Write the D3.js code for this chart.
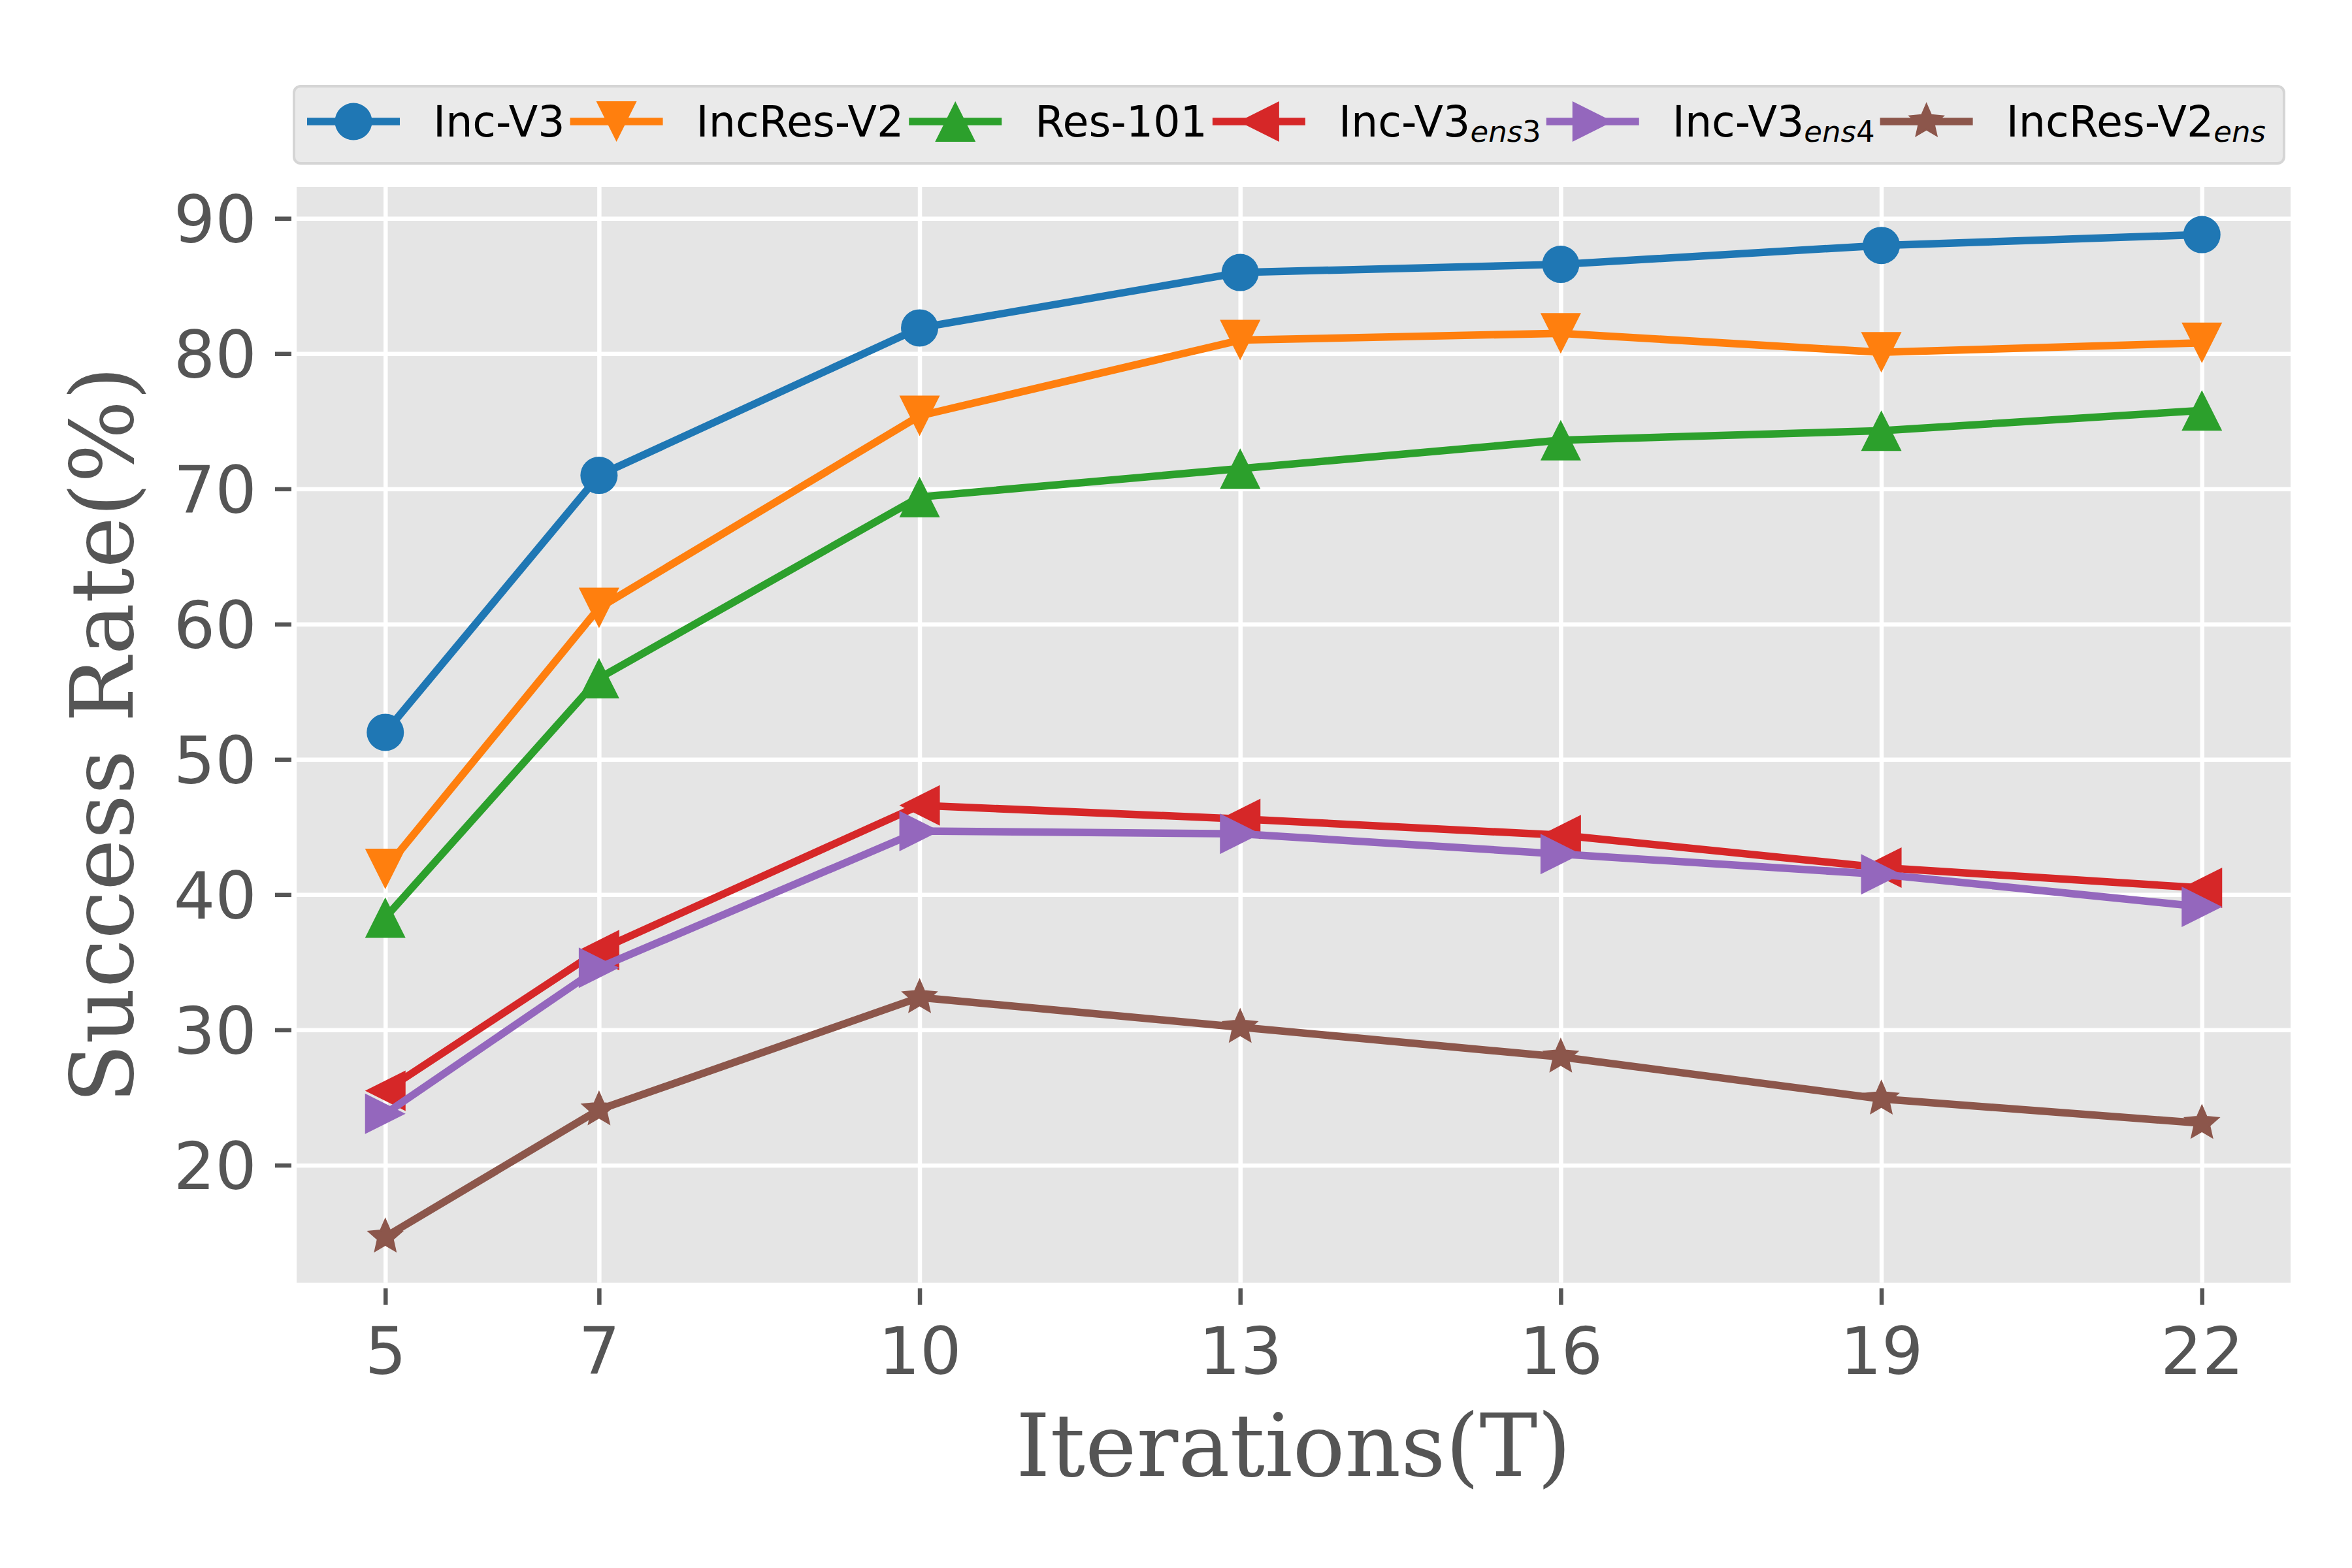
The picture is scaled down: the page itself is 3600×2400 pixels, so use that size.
<!DOCTYPE html>
<html>
<head>
<meta charset="utf-8">
<script src="https://cdn.jsdelivr.net/npm/d3@7"></script>
<style>
  body { margin: 0; background: #fff; }
</style>
</head>
<body>
<script>
// iterations on the x axis
var iters = [5, 7, 10, 13, 16, 19, 22];

// success rates (%)
var incV3      = [52.0, 71.0, 81.9, 86.0, 86.6, 88.0, 88.8];
var incResV2   = [41.9, 61.2, 75.4, 81.0, 81.5, 80.1, 80.8];
var res101     = [38.3, 56.0, 69.4, 71.5, 73.6, 74.3, 75.8];
var incV3ens3  = [25.5, 35.9, 46.6, 45.6, 44.4, 42.0, 40.5];
var incV3ens4  = [23.8, 34.6, 44.7, 44.5, 43.0, 41.5, 39.1];
var incResV2ens = [14.7, 24.1, 32.4, 30.2, 28.0, 24.9, 23.1];

var yTicks = [20, 30, 40, 50, 60, 70, 80, 90];

// legend names: base text + subscript
var names = [
  ["Inc-V3", ""], ["IncRes-V2", ""], ["Res-101", ""],
  ["Inc-V3", "ens3"], ["Inc-V3", "ens4"], ["IncRes-V2", "ens"]
];
var allSeries = [incV3, incResV2, res101, incV3ens3, incV3ens4, incResV2ens];
var colors = ["#1f77b4", "#ff7f0e", "#2ca02c", "#d62728", "#9467bd", "#8c564b"];
var shapes = ["o", "v", "^", "<", ">", "*"];

var W = 3600, H = 2400;
var pLeft = 454, pRight = 3506, pTop = 286, pBottom = 1963.5;

var svg = d3.select("body").append("svg")
  .attr("width", W).attr("height", H);

var x = d3.scaleLinear().domain([4.17, 22.83]).range([pLeft, pRight]);
var y = d3.scaleLinear().domain([11.30, 92.33]).range([pBottom, pTop]);

// panel background
svg.append("rect")
  .attr("x", pLeft).attr("y", pTop)
  .attr("width", pRight - pLeft).attr("height", pBottom - pTop)
  .attr("fill", "#e5e5e5");

// grid
var gx = svg.append("g")
  .attr("transform", "translate(0," + pBottom + ")")
  .call(d3.axisBottom(x).tickValues(iters).tickSize(-(pBottom - pTop)).tickFormat(""));
var gy = svg.append("g")
  .attr("transform", "translate(" + pLeft + ",0)")
  .call(d3.axisLeft(y).tickValues(yTicks).tickSize(-(pRight - pLeft)).tickFormat(""));
[gx, gy].forEach(function(g) {
  g.select(".domain").remove();
  g.selectAll("line").attr("stroke", "#fff").attr("stroke-width", 6.5);
});

// axes with ticks
var ax = svg.append("g")
  .attr("transform", "translate(0," + (pBottom + 8.5) + ")")
  .call(d3.axisBottom(x).tickValues(iters).tickSize(25).tickFormat(d3.format("d")));
var ay = svg.append("g")
  .attr("transform", "translate(" + (pLeft - 8) + ",0)")
  .call(d3.axisLeft(y).tickValues(yTicks).tickSize(25).tickPadding(28).tickFormat(d3.format("d")));
[ax, ay].forEach(function(g) {
  g.select(".domain").remove();
  g.selectAll("line").attr("stroke", "#555").attr("stroke-width", 6.5);
  g.selectAll("text")
    .attr("fill", "#555")
    .style("font-family", "'DejaVu Sans', sans-serif")
    .style("font-size", "100px");
});
ax.selectAll("text").attr("y", 131).attr("dy", 0);
ay.selectAll("text").attr("dy", "0.36em");

function markerPath(s) {
  var t = 31;
  if (s == "o") {
    var r = 28.5;
    return "M" + r + ",0A" + r + "," + r + " 0 1,1 " + (-r) + ",0A" + r + "," + r + " 0 1,1 " + r + ",0Z";
  }
  if (s == "v") return "M" + (-t) + "," + (-t) + "L" + t + "," + (-t) + "L0," + t + "Z";
  if (s == "^") return "M0," + (-t) + "L" + t + "," + t + "L" + (-t) + "," + t + "Z";
  if (s == "<") return "M" + (-t) + ",0L" + t + "," + (-t) + "L" + t + "," + t + "Z";
  if (s == ">") return "M" + t + ",0L" + (-t) + "," + (-t) + "L" + (-t) + "," + t + "Z";
  // star
  var ro = 26, ri = 12, p = "";
  for (var i = 0; i < 10; i++) {
    var rr = i % 2 ? ri : ro;
    var a = -Math.PI / 2 + i * Math.PI / 5;
    p += (i ? "L" : "M") + (rr * Math.cos(a)).toFixed(2) + "," + (rr * Math.sin(a)).toFixed(2);
  }
  return p + "Z";
}

var line = d3.line()
  .x(function(d) { return x(d[0]); })
  .y(function(d) { return y(d[1]); });

allSeries.forEach(function(vals, k) {
  var pts = iters.map(function(t, i) { return [t, vals[i]]; });
  var g = svg.append("g");
  g.append("path")
    .attr("d", line(pts))
    .attr("fill", "none")
    .attr("stroke", colors[k])
    .attr("stroke-width", 11.5)
    .attr("stroke-linejoin", "round");
  g.selectAll("path.m").data(pts).enter().append("path")
    .attr("class", "m")
    .attr("d", markerPath(shapes[k]))
    .attr("transform", function(d) { return "translate(" + x(d[0]) + "," + y(d[1]) + ")"; })
    .attr("fill", colors[k])
    .attr("stroke", shapes[k] == "*" ? colors[k] : "none")
    .attr("stroke-width", 3);
});

// axis labels
svg.append("text")
  .attr("x", (pLeft + pRight) / 2).attr("y", 2259)
  .attr("text-anchor", "middle")
  .attr("fill", "#555")
  .style("font-family", "'DejaVu Serif', serif")
  .style("font-size", "133px")
  .text("Iterations(T)");

svg.append("text")
  .attr("transform", "translate(203," + ((pTop + pBottom) / 2) + ") rotate(-90)")
  .attr("text-anchor", "middle")
  .attr("fill", "#555")
  .style("font-family", "'DejaVu Serif', serif")
  .style("font-size", "133px")
  .text("Success Rate(%)");

// legend
var leg = svg.append("g");
var box = leg.append("rect")
  .attr("x", 450).attr("y", 132).attr("height", 118)
  .attr("rx", 10).attr("ry", 10)
  .attr("fill", "#eaeaea")
  .attr("stroke", "#d5d5d5")
  .attr("stroke-width", 4);

var lx = 470, ly = 186, endX = 0;
names.forEach(function(n, k) {
  leg.append("line")
    .attr("x1", lx).attr("x2", lx + 142)
    .attr("y1", ly).attr("y2", ly)
    .attr("stroke", colors[k]).attr("stroke-width", 11.5);
  leg.append("path")
    .attr("d", markerPath(shapes[k]))
    .attr("transform", "translate(" + (lx + 71) + "," + ly + ")")
    .attr("fill", colors[k])
    .attr("stroke", shapes[k] == "*" ? colors[k] : "none")
    .attr("stroke-width", 3);
  var tx = lx + 193;
  var t = leg.append("text")
    .attr("x", tx).attr("y", 209)
    .attr("fill", "#000")
    .style("font-family", "'DejaVu Sans', sans-serif")
    .style("font-size", "65px");
  t.append("tspan").text(n[0]);
  if (n[1]) {
    var letters = n[1].replace(/[0-9]/g, ""), digits = n[1].replace(/[a-z]/g, "");
    t.append("tspan").attr("dy", 8).style("font-size", "45px")
      .style("font-style", "italic").text(letters);
    if (digits) t.append("tspan").style("font-size", "45px").text(digits);
  }
  endX = tx + t.node().getComputedTextLength();
  lx = endX + 8;
});
box.attr("width", endX + 28 - 450);
</script>
</body>
</html>
